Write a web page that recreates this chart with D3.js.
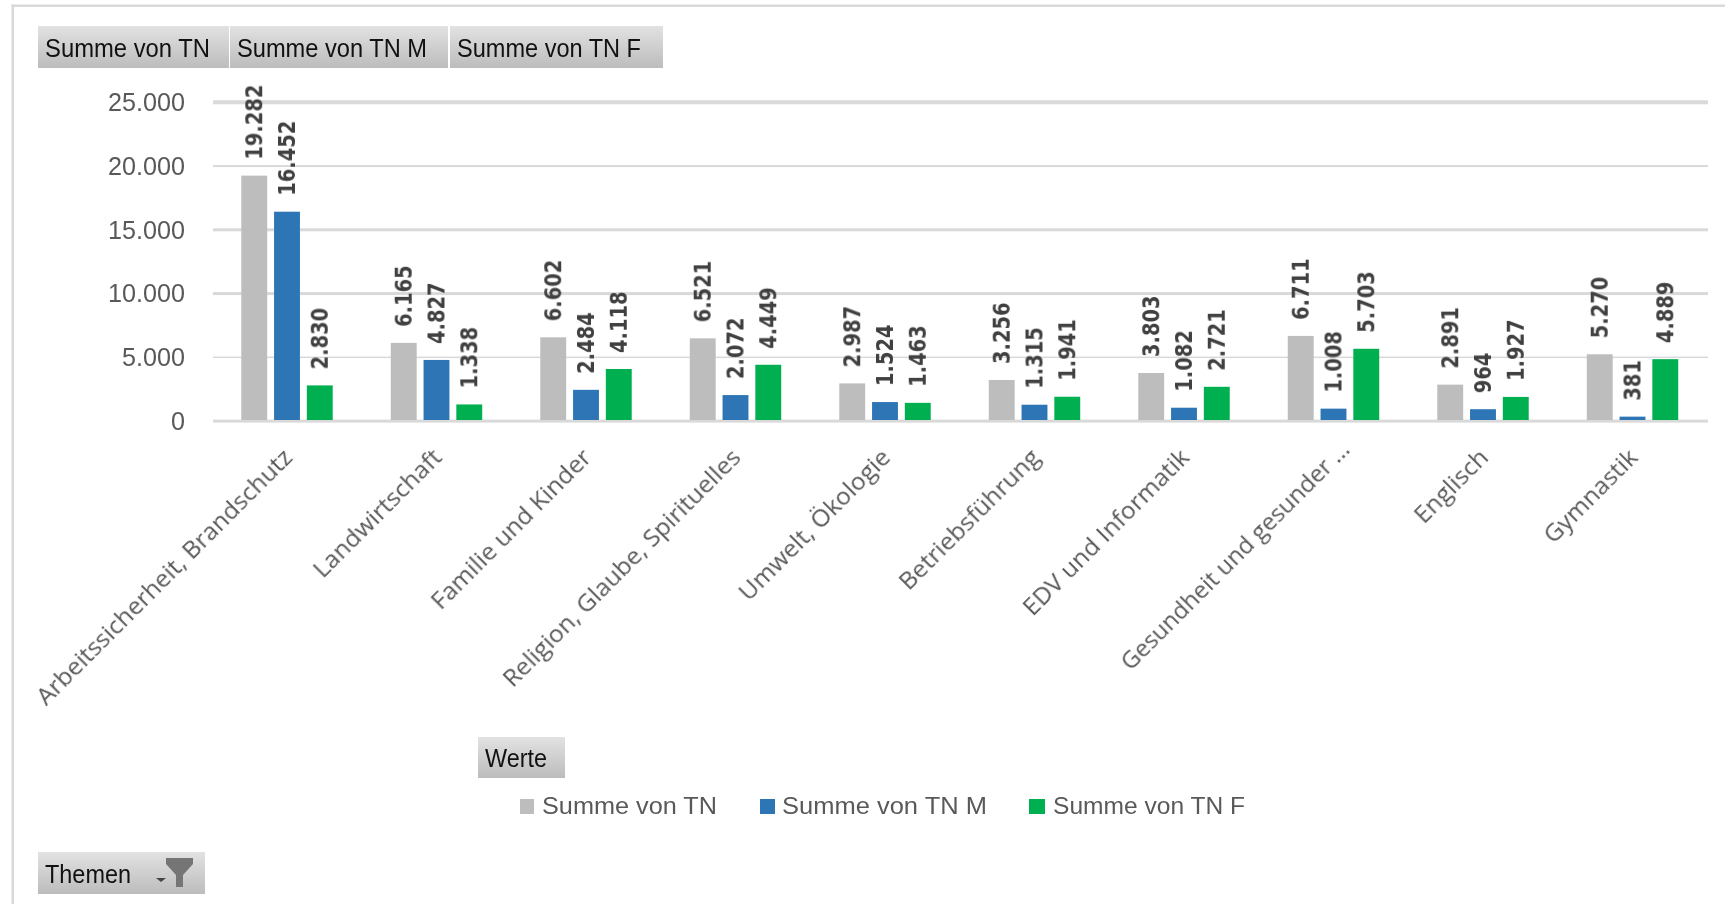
<!DOCTYPE html>
<html><head><meta charset="utf-8">
<script src="https://cdn.jsdelivr.net/npm/d3@7/dist/d3.min.js"></script>
<style>html,body{margin:0;padding:0;background:#fff;overflow:hidden}svg{display:block}svg text{filter:blur(0.4px)}</style>
</head><body><svg id="c" width="1725" height="904"></svg>
<script>
const categories = ["Arbeitssicherheit, Brandschutz","Landwirtschaft","Familie und Kinder","Religion, Glaube, Spirituelles","Umwelt, Ökologie","Betriebsführung","EDV und Informatik","Gesundheit und gesunder ...","Englisch","Gymnastik"];
const seriesNames = ["Summe von TN","Summe von TN M","Summe von TN F"];
const tn  = [19282,6165,6602,6521,2987,3256,3803,6711,2891,5270];
const tnM = [16452,4827,2484,2072,1524,1315,1082,1008,964,381];
const tnF = [2830,1338,4118,4449,1463,1941,2721,5703,1927,4889];
const yTicks = [0,5000,10000,15000,20000,25000];
const colors = ["#bdbdbd","#2e75b6","#00b050"];
const gridWidths = [3,1.5,3,3,2,4];

const svg = d3.select("#c");
const narrow = "'Liberation Sans Narrow','Liberation Sans',sans-serif";
const fmt = d3.formatLocale({decimal:",",thousands:".",grouping:[3],currency:["","€"]}).format(",d");

const x = d3.scaleBand().domain(categories).range([213,1708]);
const x1 = d3.scaleBand().domain(seriesNames).range([25,123]).paddingInner(0.21).paddingOuter(0.1);
const y = d3.scaleLinear().domain([0,25000]).range([421.5,102.7]);

const defs = svg.append("defs");
const g = defs.append("linearGradient").attr("id","btn").attr("x1",0).attr("y1",0).attr("x2",0).attr("y2",1);
g.append("stop").attr("offset","0%").attr("stop-color","#e2e2e2");
g.append("stop").attr("offset","100%").attr("stop-color","#bcbcbc");

// frame
svg.append("rect").attr("x",11.5).attr("y",4.5).attr("width",1714).attr("height",2.5).attr("fill","#d9d9d9");
svg.append("rect").attr("x",11.5).attr("y",4.5).attr("width",2.5).attr("height",900).attr("fill","#d9d9d9");

function fitted(sel,txt,px,py,len,size,fill,family){
  return sel.append("text").attr("x",px).attr("y",py).attr("font-family",family||narrow).attr("font-size",size)
    .attr("fill",fill).attr("textLength",len).attr("lengthAdjust","spacingAndGlyphs").text(txt);
}
function button(bx,by,w,h,label,tx,len){
  svg.append("rect").attr("x",bx).attr("y",by).attr("width",w).attr("height",h).attr("fill","url(#btn)");
  fitted(svg,label,tx,by+h/2+9.5,len,26,"#111");
}
button(38,26,191,42,seriesNames[0],45,165);
button(230,26,218,42,seriesNames[1],237,190);
button(450,26,213,42,seriesNames[2],457,184);
button(478,737,87,41,"Werte",485,62);
button(38,852,167,42,"Themen",45,86);
// funnel + dropdown arrow
svg.append("path").attr("d","M166,858H193V864L183,875V887H176V875L166,864Z").attr("fill","#757575");
svg.append("path").attr("d","M156,878H166L161,882Z").attr("fill","#444");

// y axis with grid
const yAxis = svg.append("g").attr("transform","translate(213,0)")
  .call(d3.axisLeft(y).tickValues(yTicks).tickFormat(fmt).tickSize(0).tickPadding(28));
yAxis.select(".domain").remove();
yAxis.selectAll("text").attr("font-family",narrow).attr("font-size",25).attr("fill","#595959")
  .attr("textLength",d=>d===0?14:d<10000?63:77).attr("lengthAdjust","spacingAndGlyphs");
svg.append("g").selectAll("rect").data(yTicks).join("rect")
  .attr("x",213).attr("width",1495).attr("y",(d,i)=>y(d)-gridWidths[i]/2-0.4).attr("height",(d,i)=>gridWidths[i]).attr("fill","#d9d9d9");

// bars and labels
const series = [tn,tnM,tnF];
const groups = svg.append("g").selectAll("g").data(categories).join("g")
  .attr("transform",d=>`translate(${x(d)},0)`);
groups.each(function(cat,i){
  const grp = d3.select(this);
  seriesNames.forEach((s,k)=>{
    const v = series[k][i];
    grp.append("rect").attr("x",x1(s)).attr("width",x1.bandwidth()).attr("y",y(v)).attr("height",y(0)-y(v)-1.5).attr("fill",colors[k]);
    grp.append("text").attr("transform",`translate(${x1(s)+x1.bandwidth()/2},${y(v)-16}) rotate(-90) scale(1,1.2)`)
      .attr("dy","0.36em").attr("font-family","'DejaVu Sans',sans-serif").attr("font-weight","bold")
      .attr("font-size",19.5).attr("fill","#404040").text(fmt(v));
  });
});

// category labels
const xAxis = svg.append("g").attr("transform","translate(0,421)")
  .call(d3.axisBottom(x).tickSize(0).tickPadding(0));
xAxis.select(".domain").remove();
xAxis.selectAll("text").attr("font-family","'Open Sans',sans-serif").attr("font-size",23).attr("fill","#595959")
  .attr("text-anchor","end").attr("dy",0).attr("y",0)
  .attr("transform",d=>d.endsWith("...")?"translate(17,30) rotate(-45) scale(1.03,1)":"translate(6,38) rotate(-45) scale(1.07,1)");

// legend
const legendX = [520,760,1029], legendW = [14,15,16], legendTX = [542,782,1053], legendL = [175,205,192];
seriesNames.forEach((s,k)=>{
  svg.append("rect").attr("x",legendX[k]).attr("y",799).attr("width",legendW[k]).attr("height",15).attr("fill",colors[k]);
  fitted(svg,s,legendTX[k],814,legendL[k],23,"#595959");
});
</script></body></html>
